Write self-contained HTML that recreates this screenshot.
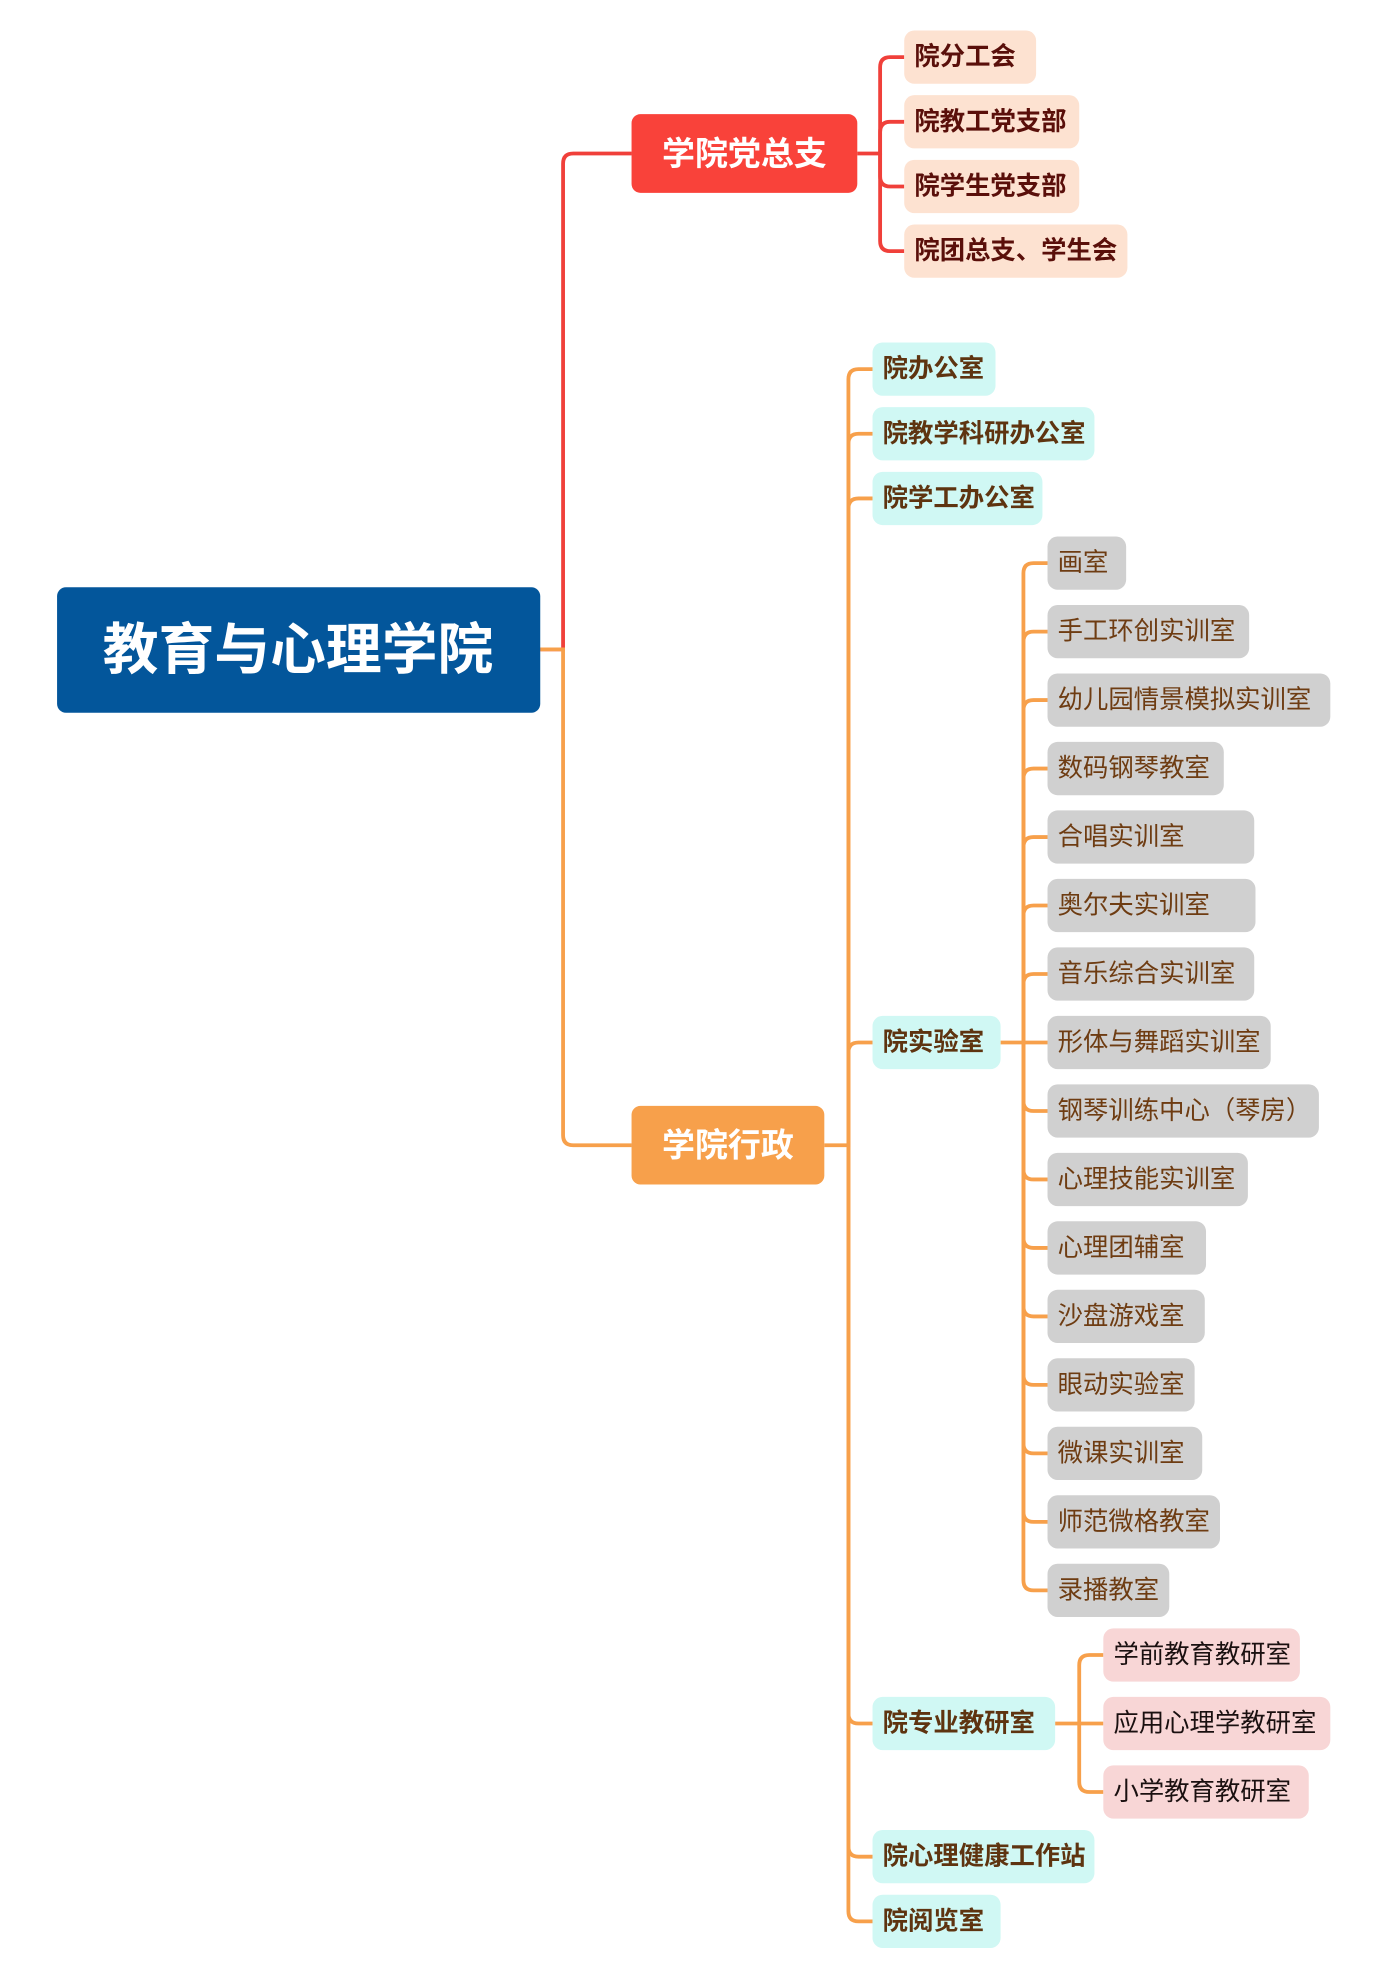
<!DOCTYPE html>
<html><head><meta charset="utf-8"><style>
html,body{margin:0;padding:0;background:#fff;}
svg{display:block;}
text{font-family:"Liberation Sans","Noto Sans CJK SC",sans-serif;dominant-baseline:central;}
.b{font-weight:bold;}
</style></head><body>
<svg width="1395" height="1981" viewBox="0 0 1100 1562" xmlns="http://www.w3.org/2000/svg">
<g fill="none" stroke-width="3">
<path stroke="#f0403a" d="M426 512 H444 V129 Q444 121 452 121 H498"/>
<path stroke="#f7a04b" d="M426 512 H444 V895 Q444 903 452 903 H498"/>
<g stroke="#f0403a">
<path d="M676 121 H694 V53 Q694 45 702 45 H713"/>
<path d="M694 121 V104 Q694 96 702 96 H713"/>
<path d="M694 121 V139 Q694 147 702 147 H713"/>
<path d="M694 121 V190 Q694 198 702 198 H713"/>
</g>
<g stroke="#f7a04b">
<path d="M650 903 H669 V299 Q669 291 677 291 H688"/>
<path d="M669 903 V350 Q669 342 677 342 H688"/>
<path d="M669 903 V401 Q669 393 677 393 H688"/>
<path d="M669 903 V830 Q669 822 677 822 H688"/>
<path d="M669 903 V1351 Q669 1359 677 1359 H688"/>
<path d="M669 903 V1456 Q669 1464 677 1464 H688"/>
<path d="M669 903 V1507 Q669 1515 677 1515 H688"/>
<path d="M789 822 H826"/>
<path d="M807 822 V452 Q807 444 815 444 H826"/>
<path d="M807 822 V506 Q807 498 815 498 H826"/>
<path d="M807 822 V560 Q807 552 815 552 H826"/>
<path d="M807 822 V614 Q807 606 815 606 H826"/>
<path d="M807 822 V668 Q807 660 815 660 H826"/>
<path d="M807 822 V722 Q807 714 815 714 H826"/>
<path d="M807 822 V776 Q807 768 815 768 H826"/>
<path d="M807 822 V868 Q807 876 815 876 H826"/>
<path d="M807 822 V922 Q807 930 815 930 H826"/>
<path d="M807 822 V976 Q807 984 815 984 H826"/>
<path d="M807 822 V1030 Q807 1038 815 1038 H826"/>
<path d="M807 822 V1084 Q807 1092 815 1092 H826"/>
<path d="M807 822 V1138 Q807 1146 815 1146 H826"/>
<path d="M807 822 V1192 Q807 1200 815 1200 H826"/>
<path d="M807 822 V1246 Q807 1254 815 1254 H826"/>
<path d="M832 1359 H870"/>
<path d="M851 1359 V1313 Q851 1305 859 1305 H870"/>
<path d="M851 1359 V1405 Q851 1413 859 1413 H870"/>
</g>
</g>
<!-- root -->
<rect x="45" y="463" width="381" height="99" rx="7" fill="#03569b"/>
<text x="235" y="512" text-anchor="middle" class="b" font-size="44" fill="#fff">教育与心理学院</text>
<rect x="498" y="90" width="178" height="62" rx="7" fill="#f9423a"/>
<text x="587" y="121" text-anchor="middle" class="b" font-size="26" fill="#fff">学院党总支</text>
<rect x="498" y="872" width="152" height="62" rx="7" fill="#f7a04b"/>
<text x="574" y="903" text-anchor="middle" class="b" font-size="26" fill="#fff">学院行政</text>
<g fill="#fde2d1"><rect x="713" y="24" width="104" height="42" rx="8"/><rect x="713" y="75" width="138" height="42" rx="8"/><rect x="713" y="126" width="138" height="42" rx="8"/><rect x="713" y="177" width="176" height="42" rx="8"/></g>
<g class="b" font-size="20" fill="#5a0f0a"><text x="721" y="45">院分工会</text><text x="721" y="96">院教工党支部</text><text x="721" y="147">院学生党支部</text><text x="721" y="198">院团总支、学生会</text></g>
<g fill="#d0f8f4"><rect x="688" y="270" width="97" height="42" rx="8"/><rect x="688" y="321" width="175" height="42" rx="8"/><rect x="688" y="372" width="134" height="42" rx="8"/><rect x="688" y="801" width="101" height="42" rx="8"/><rect x="688" y="1338" width="144" height="42" rx="8"/><rect x="688" y="1443" width="175" height="42" rx="8"/><rect x="688" y="1494" width="101" height="42" rx="8"/></g>
<g class="b" font-size="20" fill="#5e3410"><text x="696" y="291">院办公室</text><text x="696" y="342">院教学科研办公室</text><text x="696" y="393">院学工办公室</text><text x="696" y="822">院实验室</text><text x="696" y="1359">院专业教研室</text><text x="696" y="1464">院心理健康工作站</text><text x="696" y="1515">院阅览室</text></g>
<g fill="#d0d0d0"><rect x="826" y="423" width="62" height="42" rx="8"/><rect x="826" y="477" width="159" height="42" rx="8"/><rect x="826" y="531" width="223" height="42" rx="8"/><rect x="826" y="585" width="139" height="42" rx="8"/><rect x="826" y="639" width="163" height="42" rx="8"/><rect x="826" y="693" width="164" height="42" rx="8"/><rect x="826" y="747" width="163" height="42" rx="8"/><rect x="826" y="801" width="176" height="42" rx="8"/><rect x="826" y="855" width="214" height="42" rx="8"/><rect x="826" y="909" width="158" height="42" rx="8"/><rect x="826" y="963" width="125" height="42" rx="8"/><rect x="826" y="1017" width="124" height="42" rx="8"/><rect x="826" y="1071" width="116" height="42" rx="8"/><rect x="826" y="1125" width="122" height="42" rx="8"/><rect x="826" y="1179" width="136" height="42" rx="8"/><rect x="826" y="1233" width="96" height="42" rx="8"/></g>
<g font-size="20" fill="#6e3c12"><text x="834" y="444">画室</text><text x="834" y="498">手工环创实训室</text><text x="834" y="552">幼儿园情景模拟实训室</text><text x="834" y="606">数码钢琴教室</text><text x="834" y="660">合唱实训室</text><text x="834" y="714">奥尔夫实训室</text><text x="834" y="768">音乐综合实训室</text><text x="834" y="822">形体与舞蹈实训室</text><text x="834" y="876">钢琴训练中心（琴房）</text><text x="834" y="930">心理技能实训室</text><text x="834" y="984">心理团辅室</text><text x="834" y="1038">沙盘游戏室</text><text x="834" y="1092">眼动实验室</text><text x="834" y="1146">微课实训室</text><text x="834" y="1200">师范微格教室</text><text x="834" y="1254">录播教室</text></g>
<g fill="#f8d6d6"><rect x="870" y="1284" width="155" height="42" rx="8"/><rect x="870" y="1338" width="179" height="42" rx="8"/><rect x="870" y="1392" width="162" height="42" rx="8"/></g>
<g font-size="20" fill="#1a1010"><text x="878" y="1305">学前教育教研室</text><text x="878" y="1359">应用心理学教研室</text><text x="878" y="1413">小学教育教研室</text></g>
</svg>
</body></html>
